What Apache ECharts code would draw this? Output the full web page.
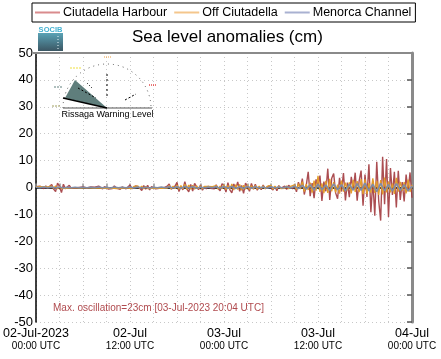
<!DOCTYPE html>
<html><head><meta charset="utf-8">
<script src="https://cdn.jsdelivr.net/npm/echarts@6/dist/echarts.min.js"></script>
<style>html,body{margin:0;padding:0;background:#fff}#c{width:441px;height:359px}</style>
</head><body><div id="c"></div>
<script>
// Series names of the legend
const seriesNames = ['Ciutadella Harbour', 'Off Ciutadella', 'Menorca Channel'];
// Time axis: hours since 02-Jul-2023 00:00 UTC
const xTickLabels = {0: ['02-Jul-2023', '00:00 UTC'], 12: ['02-Jul', '12:00 UTC'], 24: ['03-Jul', '00:00 UTC'], 36: ['03-Jul', '12:00 UTC'], 48: ['04-Jul', '00:00 UTC']};
const yTicks = [-50, -40, -30, -20, -10, 0, 10, 20, 30, 40, 50];

// Ciutadella Harbour, one value every 0.25 h (cm)
const harbourStep = 0.25;
const harbour = [
 0.3,-0.1,0.5,0.1,   -0.4,0.6,-0.2,-0.7,  1.1,-0.6,-1.5,1.6,  0.4,-1.9,1.2,-0.5,
 -1.2,0.8,-0.3,0.4,  -0.2,0.3,0.0,-0.2,   0.2,-0.1,-0.2,0.1,  0.2,-0.2,0.1,-0.1,
 0.5,-0.2,-0.5,0.3,  0.7,-0.6,0.1,-0.4,   0.6,-0.2,0.4,-0.7,  0.2,0.5,-0.5,-0.1,
 0.9,-0.4,-1.0,0.6,  1.2,-0.3,-1.1,0.7,   -0.6,0.8,-0.9,0.3,  0.5,-0.5,0.1,-0.3,
 0.4,-0.2,-0.6,0.5,  1.3,-0.6,-1.2,0.5,   1.9,-1.5,0.4,-0.9,  2.2,-0.5,-1.6,1.1,
 -1.3,1.5,0.2,-0.8,  0.9,-1.0,0.3,-0.5,   0.5,-0.3,0.2,-0.5,  1.0,-0.4,-1.2,1.4,
 0.6,-1.7,1.8,-0.9,  -2.0,1.3,-0.5,2.1,   -1.4,0.8,-2.2,1.6,  0.3,-1.4,1.5,-0.6,
 1.2,-1.0,0.2,-0.8,  0.9,-0.4,-1.1,0.6,   1.3,-0.9,0.4,-1.2,  0.7,-0.3,-0.6,0.5,
 -0.7,0.8,0.2,-0.5,  1.0,-1.6,2.0,-0.4,   3.3,-2.6,0.8,5.8,   -3.2,1.6,-4.0,3.0,
 0.5,4.4,-5.0,2.2,   -1.4,7.0,-4.6,3.4,   5.2,-2.0,-4.2,3.6,  -1.5,5.4,-4.8,1.8,
 -3.6,4.0,-0.8,5.5,  -4.9,2.4,6.3,-6.8,   4.8,-3.5,8.6,-9.2,  2.5,-10.5,9.6,-5.0,
 -12.3,11.4,-6.2,10.6, -11.0,7.2,-2.8,5.8, -7.4,6.2,-4.6,2.0, -5.2,4.8,-1.5,5.6,
 -3.8
];
// Off Ciutadella, one value every 0.25 h (cm)
const offStep = 0.25;
const offCiutadella = [
 0.2,-0.1,0.3,-0.2, 0.3,-0.3,0.2,-0.2, 0.5,-0.3,0.6,-0.5, 0.4,-0.4,0.3,-0.3,
 0.3,-0.2,0.2,-0.1, 0.2,-0.1,0.2,-0.2, 0.1,-0.1,0.2,-0.1, 0.2,-0.2,0.1,-0.1,
 0.3,-0.2,0.2,-0.3, 0.4,-0.3,0.3,-0.2, 0.3,-0.4,0.2,-0.3, 0.4,-0.2,0.3,-0.2,
 0.5,-0.4,0.4,-0.3, 0.6,-0.3,0.5,-0.5, 0.4,-0.4,0.3,-0.2, 0.3,-0.3,0.2,-0.2,
 0.4,-0.3,0.3,-0.2, 0.7,-0.5,0.5,-0.4, 0.9,-0.6,0.7,-0.5, 1.2,-0.7,0.9,-0.6,
 0.8,-0.6,0.6,-0.4, 0.6,-0.5,0.4,-0.3, 0.4,-0.3,0.3,-0.3, 0.7,-0.6,0.5,-0.4,
 1.0,-0.8,0.7,-0.6, 1.3,-0.9,1.0,-0.7, 1.1,-1.0,0.8,-0.6, 0.9,-0.7,0.6,-0.5,
 0.7,-0.6,0.5,-0.4, 0.6,-0.5,0.4,-0.3, 0.8,-0.6,0.5,-0.4, 0.5,-0.4,0.3,-0.3,
 0.6,-0.5,0.4,-0.3, 1.0,-0.8,1.4,-0.6, 2.2,-1.5,1.2,-0.9, 1.8,-1.9,2.6,-1.2,
 4.3,-1.6,1.5,-2.1, 2.5,-2.0,3.2,-1.4, 2.0,-1.8,1.1,-2.3, 2.6,-1.5,1.8,-1.1,
 1.9,-2.2,2.8,-1.6, 2.4,-1.7,3.1,-2.5, 3.0,-2.4,1.6,-1.9, 3.4,-2.0,2.5,-2.8,
 2.8,-2.6,3.7,-1.8, 2.2,-1.8,1.4,-2.4, 3.6,-1.5,2.1,-1.2, 2.0,-2.2,2.9,-1.6,
 1.0
];
// Menorca Channel, one value every 0.5 h (cm)
const channelStep = 0.5;
const menorcaChannel = [
 0.1,-0.1, 0.2,-0.1, 0.2,-0.2, 0.2,-0.2, 0.1,-0.1, 0.1,-0.1, 0.1,-0.1, 0.1,-0.1,
 0.2,-0.1, 0.1,-0.2, 0.2,-0.1, 0.1,-0.1, 0.2,-0.2, 0.2,-0.2, 0.1,-0.2, 0.1,-0.1,
 0.2,-0.1, 0.3,-0.2, 0.3,-0.3, 0.4,-0.2, 0.3,-0.3, 0.2,-0.2, 0.2,-0.1, 0.3,-0.3,
 0.4,-0.3, 0.4,-0.4, 0.3,-0.4, 0.4,-0.3, 0.3,-0.2, 0.2,-0.3, 0.3,-0.2, 0.2,-0.2,
 0.3,-0.2, 0.5,-0.4, 0.8,-0.6, 1.0,-0.9, 1.2,-0.8, 0.9,-1.1, 1.3,-0.9, 1.0,-1.2,
 1.2,-1.0, 1.4,-1.1, 1.6,-1.3, 1.2,-1.5, 1.5,-1.2, 1.1,-1.3, 1.4,-1.0, 1.0,-1.2,
 0.5
];
const maxOscText = 'Max. oscillation=23cm [03-Jul-2023 20:04 UTC]';

const toPairs = (arr, step) => arr.map((v, i) => [i * step, v]);
const FONT = '"Liberation Sans", Arial, Helvetica, sans-serif';

const chart = echarts.init(document.getElementById('c'), null, {renderer: 'canvas'});
chart.setOption({
  animation: false,
  textStyle: {fontFamily: FONT},
  title: {
    text: 'Sea level anomalies (cm)', left: 127, top: 24,
    textStyle: {fontFamily: FONT, fontSize: 17, fontWeight: 'normal', color: '#000'}
  },
  legend: {
    left: 32, top: 3, padding: [3, 4, 3, 3], itemGap: 7,
    itemWidth: 25, itemHeight: 2, icon: 'rect',
    borderColor: '#000', borderWidth: 1, borderRadius: 0,
    textStyle: {fontFamily: FONT, fontSize: 12.5, color: '#000', padding: [0, 0, 0, -2]},
    data: [
      {name: seriesNames[0], itemStyle: {color: '#d98b8d'}},
      {name: seriesNames[1], itemStyle: {color: '#f4c68c'}},
      {name: seriesNames[2], itemStyle: {color: '#a9b1d1'}}
    ]
  },
  grid: {left: 33, right: 29, top: 53, bottom: 37, show: false},
  xAxis: {
    type: 'value', min: 0, max: 48, interval: 3,
    axisLine: {show: true, lineStyle: {color: '#000', width: 1.5}},
    axisTick: {show: true, inside: true, length: 4, lineStyle: {color: '#999', width: 1.5}},
    splitLine: {show: true, lineStyle: {color: '#c8c8c8', type: [1, 3], width: 1}},
    axisLabel: {
      showMinLabel: true, showMaxLabel: true, margin: 4, interval: 0,
      formatter: v => xTickLabels[v] ? '{a|' + xTickLabels[v][0] + '}\n{b|' + xTickLabels[v][1] + '}' : '',
      rich: {
        a: {fontFamily: FONT, fontSize: 12.5, color: '#000', lineHeight: 15},
        b: {fontFamily: FONT, fontSize: 10, color: '#000', lineHeight: 11}
      }
    }
  },
  yAxis: [{
    type: 'value', min: yTicks[0], max: yTicks[yTicks.length - 1], interval: 10,
    axisLine: {show: true, lineStyle: {color: '#000', width: 1.5}},
    axisTick: {show: false},
    splitLine: {show: true, lineStyle: {color: '#c8c8c8', type: [1, 3], width: 1}},
    axisLabel: {fontFamily: FONT, fontSize: 13, color: '#000', margin: 3}
  }, {
    type: 'value', position: 'right', min: yTicks[0], max: yTicks[yTicks.length - 1], interval: 10,
    axisLine: {show: true, lineStyle: {color: '#8a8a8a', width: 3}},
    axisTick: {show: true, inside: true, length: 5, lineStyle: {color: '#555', width: 1.5}},
    axisLabel: {show: false}, splitLine: {show: false}
  }],
  series: [
    {name: seriesNames[0], type: 'line', data: toPairs(harbour, harbourStep), showSymbol: false, z: 2,
     lineStyle: {color: '#a23a3e', width: 1.4, opacity: 0.9}, itemStyle: {color: '#a23a3e'}},
    {name: seriesNames[1], type: 'line', data: toPairs(offCiutadella, offStep), showSymbol: false, z: 3,
     lineStyle: {color: '#e39c2a', width: 1.3}, itemStyle: {color: '#e39c2a'}},
    {name: seriesNames[2], type: 'line', data: toPairs(menorcaChannel, channelStep), showSymbol: false, z: 4,
     lineStyle: {color: '#7f8ca6', width: 1.6}, itemStyle: {color: '#7f8ca6'}}
  ],
  graphic: [
    // top border of plot
    {type: 'line', shape: {x1: 33, y1: 53, x2: 413, y2: 53}, style: {stroke: '#8a8a8a', lineWidth: 2}, z: 10},
    // SOCIB logo
    {type: 'rect', shape: {x: 38, y: 33, width: 25, height: 18},
     style: {fill: new echarts.graphic.LinearGradient(0, 0, 0, 1, [{offset: 0, color: '#5aa3b6'}, {offset: 1, color: '#3b5663'}])}, z: 11},
    {type: 'line', shape: {x1: 58, y1: 36, x2: 58, y2: 49}, style: {stroke: '#e8f4f8', lineWidth: 1, lineDash: [1, 2]}, z: 12},
    {type: 'text', x: 50.5, y: 26, style: {text: 'SOCIB', fontFamily: FONT, fontSize: 7.5, fontWeight: 'bold', fill: '#45b2d2', textAlign: 'center'}, z: 11},
    // Rissaga gauge
    {type: 'arc', shape: {cx: 107, cy: 108, r: 44, startAngle: Math.PI, endAngle: 2 * Math.PI},
     style: {stroke: '#555', fill: null, lineWidth: 1, lineDash: [1, 4]}, z: 11},
    {type: 'line', shape: {x1: 63, y1: 108, x2: 152, y2: 108}, style: {stroke: '#555', lineWidth: 1}, z: 11},
    {type: 'polygon', shape: {points: [[75, 80], [65, 98], [107, 108]]}, style: {fill: '#5f7e7c'}, z: 12},
    {type: 'line', shape: {x1: 63, y1: 98, x2: 107, y2: 108}, style: {stroke: '#000', lineWidth: 1.5}, z: 13},
    {type: 'line', shape: {x1: 78, y1: 88, x2: 96, y2: 98}, style: {stroke: '#000', lineWidth: 1, lineDash: [2, 2]}, z: 13},
    {type: 'line', shape: {x1: 107, y1: 74, x2: 107, y2: 96}, style: {stroke: '#000', lineWidth: 1, lineDash: [2, 3]}, z: 13},
    {type: 'line', shape: {x1: 87, y1: 83, x2: 92, y2: 88}, style: {stroke: '#000', lineWidth: 1, lineDash: [1, 2]}, z: 13},
    {type: 'line', shape: {x1: 125, y1: 100, x2: 136, y2: 94}, style: {stroke: '#000', lineWidth: 1, lineDash: [2, 2]}, z: 13},
    {type: 'line', shape: {x1: 104, y1: 57, x2: 112, y2: 57}, style: {stroke: '#f0a040', lineWidth: 1, lineDash: [1, 1]}, z: 13},
    {type: 'line', shape: {x1: 70, y1: 68, x2: 82, y2: 68}, style: {stroke: '#f0e040', lineWidth: 1.2, lineDash: [2, 1]}, z: 13},
    {type: 'line', shape: {x1: 54, y1: 87, x2: 63, y2: 87}, style: {stroke: '#5f7e7c', lineWidth: 1, lineDash: [2, 1]}, z: 13},
    {type: 'line', shape: {x1: 52, y1: 106, x2: 60, y2: 106}, style: {stroke: '#a0a060', lineWidth: 1, lineDash: [2, 1]}, z: 13},
    {type: 'line', shape: {x1: 149, y1: 85, x2: 157, y2: 85}, style: {stroke: '#e02020', lineWidth: 1.2, lineDash: [1, 1]}, z: 13},
    {type: 'text', x: 107.5, y: 110, style: {text: 'Rissaga Warning Level', fontFamily: FONT, fontSize: 9, fill: '#000', textAlign: 'center'}, z: 13},
    // Max oscillation
    {type: 'text', x: 53, y: 303, style: {text: maxOscText, fontFamily: FONT, fontSize: 10, fill: '#b04a4e'}, z: 13}
  ]
});
</script></body></html>
